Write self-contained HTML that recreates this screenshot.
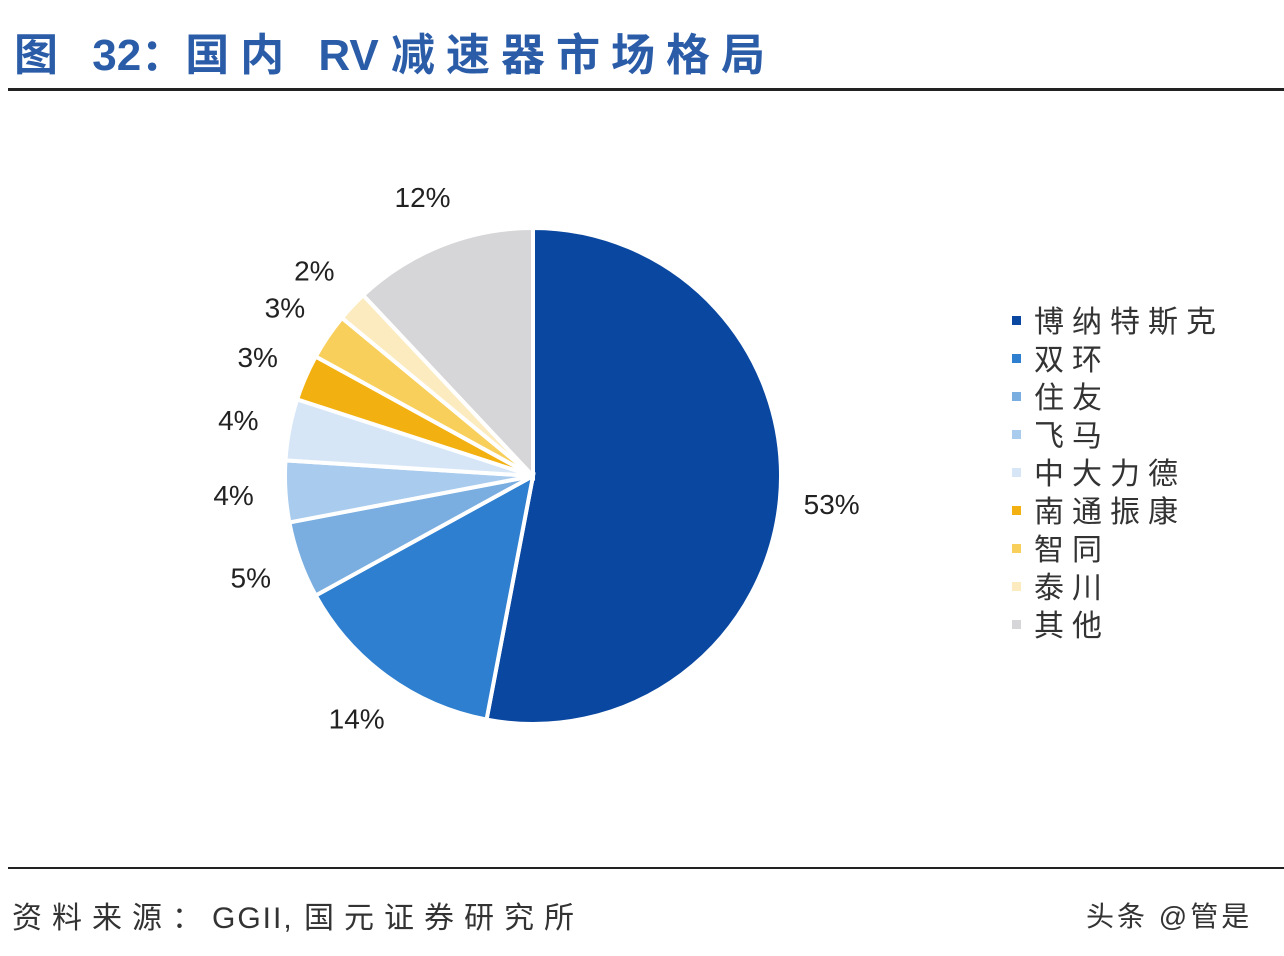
<!DOCTYPE html>
<html><head><meta charset="utf-8"><style>
body{margin:0;width:1284px;height:956px;background:#fff;font-family:"Liberation Sans","Noto Sans CJK SC",sans-serif;overflow:hidden;position:relative}
.t{position:absolute;white-space:nowrap}
.c{letter-spacing:11px}
.s{letter-spacing:10px}
</style></head><body>
<div class="t" style="left:14px;top:19px;font-size:44px;font-weight:bold;color:#2a5ca8"><span class="c">图 </span>32：<span class="c">国内 </span>RV <span class="c">减速器市场格局</span></div>
<div style="position:absolute;left:8px;top:88px;width:1276px;height:3px;background:#222"></div>
<div style="position:absolute;left:8px;top:867px;width:1276px;height:2px;background:#222"></div>
<div class="t" style="left:12px;top:893px;font-size:30px;color:#333"><span class="s">资料来源：</span><span style="letter-spacing:2px">GGII, </span><span class="s">国元证券研究所</span></div>
<div class="t" style="left:1086px;top:895px;font-size:28px;color:#333;letter-spacing:3px">头条 @管是</div>
<svg id="chart" width="1284" height="956" style="position:absolute;left:0;top:0"></svg>
<script>
const categories=["博纳特斯克","双环","住友","飞马","中大力德","南通振康","智同","泰川","其他"];
const values=[53,14,5,4,4,3,3,2,12];
const labels=["53%","14%","5%","4%","4%","3%","3%","2%","12%"];
const colors=["#0a47a0","#2e7fcf","#7aaee0","#a9cbee","#d6e6f7","#f2b011","#f8cf5a","#fdebc0","#d6d6d8"];
const svg=document.getElementById('chart');const NS="http://www.w3.org/2000/svg";
const cx=533,cy=476,r=248,lr=300;
const total=values.reduce((a,b)=>a+b,0);
let acc=0;
function pt(a,rad){return [cx+rad*Math.sin(a),cy-rad*Math.cos(a)];}
values.forEach((v,i)=>{
 const a0=acc/total*2*Math.PI,a1=(acc+v)/total*2*Math.PI;acc+=v;
 const p0=pt(a0,r),p1=pt(a1,r);
 const path=document.createElementNS(NS,'path');
 path.setAttribute('d',`M${cx},${cy}L${p0[0]},${p0[1]}A${r},${r} 0 ${a1-a0>Math.PI?1:0} 1 ${p1[0]},${p1[1]}Z`);
 path.setAttribute('fill',colors[i]);path.setAttribute('stroke','#fff');path.setAttribute('stroke-width','4');
 
 
 svg.appendChild(path);
 const m=(a0+a1)/2,lp=pt(m,lr);
 const t=document.createElementNS(NS,'text');
 t.setAttribute('x',lp[0]);t.setAttribute('y',lp[1]+10);t.setAttribute('text-anchor','middle');
 t.setAttribute('font-size','28');t.setAttribute('fill','#222');t.setAttribute('font-family','Liberation Sans, sans-serif');
 t.textContent=labels[i];
 
 
 svg.appendChild(t);
});
categories.forEach((c,i)=>{
 const y=321+i*38;
 const rc=document.createElementNS(NS,'rect');
 rc.setAttribute('x',1012);rc.setAttribute('y',y-5);rc.setAttribute('width',9);rc.setAttribute('height',9);rc.setAttribute('fill',colors[i]);
 
 
 svg.appendChild(rc);
 const t=document.createElementNS(NS,'text');
 t.setAttribute('x',1034);t.setAttribute('y',y+11);t.setAttribute('font-size','30');t.setAttribute('fill','#333');
 t.setAttribute('letter-spacing','8');t.setAttribute('font-family','Noto Sans CJK SC, sans-serif');
 t.textContent=c;
 
 
 svg.appendChild(t);
});
</script>
</body></html>
